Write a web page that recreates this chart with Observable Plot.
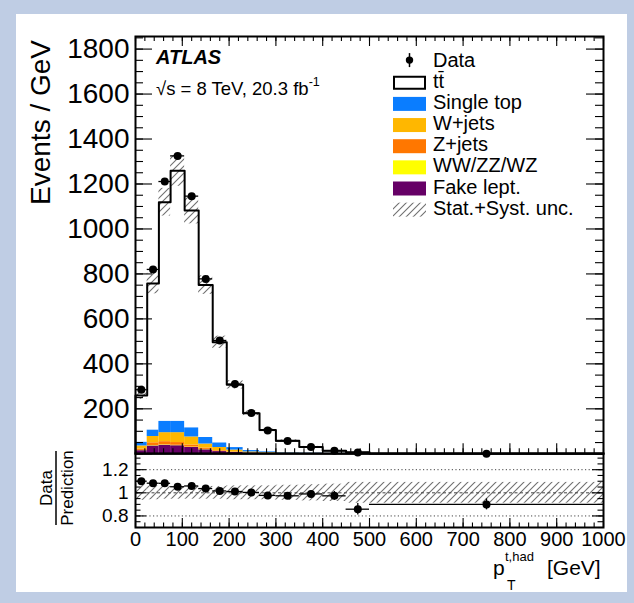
<!DOCTYPE html>
<html><head><meta charset="utf-8">
<script src="https://cdn.jsdelivr.net/npm/d3@7"></script>
<script src="https://cdn.jsdelivr.net/npm/@observablehq/plot@0.6"></script>
<style>
html,body{margin:0;padding:0;}
body{width:634px;height:603px;background:#bfcde4;position:relative;overflow:hidden;font-family:"Liberation Sans",Arial,sans-serif;}
#panel{position:absolute;left:16px;top:14px;width:611px;height:578px;background:#fff;}
#top,#bot{position:absolute;left:0;}
#top{top:0px;}
#bot{top:453px;}
#ov{position:absolute;left:0;top:0;pointer-events:none;}
</style></head><body>
<div id="panel"></div>
<div id="top"></div>
<div id="bot"></div>
<svg id="ov" width="634" height="603" font-family="Liberation Sans, Arial, sans-serif">
  <defs>
    <pattern id="hatch" patternUnits="userSpaceOnUse" width="7" height="7">
      <path d="M-1,1 l2,-2 M0,7 l7,-7 M6,8 l2,-2" stroke="#707070" stroke-width="1.1"/>
    </pattern>
  </defs>
  <text x="156" y="63.5" font-size="20" font-weight="bold" font-style="italic">ATLAS</text>
  <text x="156" y="95" font-size="18.5">√s = 8 TeV, 20.3 fb<tspan font-size="12.5" dy="-9">-1</tspan></text>
  <text transform="translate(50,40) rotate(-90)" text-anchor="end" font-size="28">Events / GeV</text>
  <text transform="translate(52,488) rotate(-90)" text-anchor="middle" font-size="17">Data</text>
  <line x1="56" x2="56" y1="451" y2="525" stroke="black" stroke-width="1.5"/>
  <text transform="translate(73,488) rotate(-90)" text-anchor="middle" font-size="17">Prediction</text>
  <text x="493" y="575" font-size="21">p<tspan font-size="13" x="505" dy="-14.5">t,had</tspan><tspan font-size="14" x="507" dy="29.5">T</tspan><tspan font-size="21" x="547" dy="-15">[GeV]</tspan></text>
  <g id="legend"></g>
</svg>
<script>
// ---------------- data ----------------
const binEdges   = [0, 25, 50, 75, 105, 135, 165, 195, 230, 265, 300, 350, 400, 450, 500, 1000];
const dataVals   = [285, 820, 1211, 1325, 1146, 778, 504, 310, 181, 104, 56.5, 30.5, 13.4, 6.0, 0.72];
const ttbar      = [208, 652, 975, 1115, 967, 678, 448, 279, 166, 98, 53, 28, 12.2, 6.1, 0.65];
const singleTop  = [16, 28, 50, 50, 40, 29, 20, 11, 6, 3, 2, 1.2, 0.6, 0.3, 0.06];
const wJets      = [14, 28, 40, 44, 36, 18, 14, 8, 4, 2.5, 1.5, 0.8, 0.5, 0.3, 0.04];
const zJets      = [6, 12, 14, 12, 9, 6, 3, 2, 1, 0.6, 0.3, 0.2, 0.1, 0.05, 0.01];
const diboson    = [1, 2, 2, 2, 2, 1.5, 1, 0.6, 0.4, 0.3, 0.2, 0.1, 0.06, 0.04, 0.01];
const fakeLep    = [14, 35, 38, 36, 28, 18, 10, 6, 3, 2, 1, 0.5, 0.3, 0.2, 0.03];
const relUnc     = [0.065, 0.06, 0.055, 0.055, 0.055, 0.055, 0.055, 0.06, 0.06, 0.06, 0.065, 0.07, 0.075, 0.09, 0.09];

const yLabelTicks = [200, 400, 600, 800, 1000, 1200, 1400, 1600, 1800];
const xLabelTicks = [0, 100, 200, 300, 400, 500, 600, 700, 800, 900, 1000];
const rLabelTicks = [0.8, 1, 1.2];
const legendNames = ["Data", "tt\u0304", "Single top", "W+jets", "Z+jets", "WW/ZZ/WZ", "Fake lept.", "Stat.+Syst. unc."];

const colSingleTop = "#0a7dff", colW = "#ffb700", colZ = "#ff7700", colVV = "#ffff00", colFake = "#660066";

// ---------------- layout ----------------
const W = 634, L = 135, R = 603;
const TT = 36, TB = 453.3;           // top panel frame (px)
const BH = 74;                        // ratio panel height (px)
const X_DOMAIN = [0, 1000], Y_DOMAIN = [0, 1856], R_DOMAIN = [0.7, 1.34];
const gevPerPx = (X_DOMAIN[1] - X_DOMAIN[0]) / (R - L);
const evPerPx = (Y_DOMAIN[1] - Y_DOMAIN[0]) / (TB - TT);
const rPerPx = (R_DOMAIN[1] - R_DOMAIN[0]) / BH;

// ---------------- derived tables ----------------
const series = [
  {vals: fakeLep, color: colFake},
  {vals: diboson, color: colVV},
  {vals: zJets, color: colZ},
  {vals: wJets, color: colW},
  {vals: singleTop, color: colSingleTop}
];
const bins = binEdges.slice(0, -1).map((lo, i) => {
  const hi = binEdges[i + 1], w = hi - lo;
  let bkg = 0;
  series.forEach(s => bkg += s.vals[i]);
  const mc = bkg + ttbar[i];
  const d = dataVals[i];
  const err = Math.sqrt(d * w) / w;
  return {i, lo, hi, c: (lo + hi) / 2, bkg, mc, data: d, err, unc: relUnc[i],
          ratio: d / mc, rerr: err / mc};
});
const stackRows = series.map(() => []);
bins.forEach(b => {
  let acc = 0;
  series.forEach((s, k) => { const v = s.vals[b.i]; stackRows[k].push({x1: b.lo, x2: b.hi, y1: acc, y2: acc + v}); acc += v; });
});
const stepPts = [{x: binEdges[0], y: 0}];
bins.forEach(b => { stepPts.push({x: b.lo, y: b.mc}); stepPts.push({x: b.hi, y: b.mc}); });
stepPts.push({x: binEdges[binEdges.length - 1], y: 0});

const yMajor = d3.range(0, 1801, 200), yMinor = d3.range(0, 1851, 50);
const xMajor = d3.range(0, 1001, 100), xMinor = d3.range(0, 1001, 20);
const rMajor = [0.8, 1.0, 1.2], rMinor = d3.range(0.7, 1.3401, 0.05);

const style = {background: "transparent", fontFamily: "Liberation Sans, Arial, sans-serif", color: "black", overflow: "visible"};
const tickStroke = {stroke: "black", strokeWidth: 1.1};

// ---------------- top panel ----------------
const topPlot = Plot.plot({
  width: W, height: 455,
  marginLeft: L, marginRight: W - R, marginTop: TT, marginBottom: 455 - TB,
  style,
  x: {domain: X_DOMAIN, axis: null},
  y: {domain: Y_DOMAIN},
  marks: [
    ...series.map((s, k) => Plot.rect(stackRows[k], {x1: "x1", x2: "x2", y1: "y1", y2: "y2", fill: s.color})),
    Plot.rect(bins, {x1: "lo", x2: "hi", y1: d => d.mc * (1 - d.unc), y2: d => d.mc * (1 + d.unc), fill: "url(#hatch)"}),
    Plot.line(stepPts, {x: "x", y: "y", stroke: "black", strokeWidth: 2}),
    Plot.ruleY(yMajor, {y: d => d, x1: 0, x2: 17 * gevPerPx, ...tickStroke}),
    Plot.ruleY(yMinor, {y: d => d, x1: 0, x2: 8 * gevPerPx, ...tickStroke}),
    Plot.ruleY(yMajor, {y: d => d, x1: 1000 - 17 * gevPerPx, x2: 1000, ...tickStroke}),
    Plot.ruleY(yMinor, {y: d => d, x1: 1000 - 8 * gevPerPx, x2: 1000, ...tickStroke}),
    Plot.ruleX(xMajor, {x: d => d, y1: 0, y2: 10 * evPerPx, ...tickStroke}),
    Plot.ruleX(xMinor, {x: d => d, y1: 0, y2: 5 * evPerPx, ...tickStroke}),
    Plot.ruleX(xMajor, {x: d => d, y1: Y_DOMAIN[1] - 10 * evPerPx, y2: Y_DOMAIN[1], ...tickStroke}),
    Plot.ruleX(xMinor, {x: d => d, y1: Y_DOMAIN[1] - 5 * evPerPx, y2: Y_DOMAIN[1], ...tickStroke}),
    Plot.frame({stroke: "black", strokeWidth: 2}),
    Plot.ruleY(bins, {y: "data", x1: "lo", x2: "hi", stroke: "black", strokeWidth: 1.3}),
    Plot.ruleX(bins, {x: "c", y1: d => d.data - d.err, y2: d => d.data + d.err, stroke: "black", strokeWidth: 1.3}),
    Plot.dot(bins, {x: "c", y: "data", r: 4, fill: "black"}),
    Plot.axisY({ticks: yLabelTicks, tickSize: 0, tickPadding: 6, fontSize: 28, tickFormat: d => String(d), label: null})
  ]
});
document.getElementById("top").appendChild(topPlot);

// ---------------- ratio panel ----------------
const botPlot = Plot.plot({
  width: W, height: 150,
  marginLeft: L, marginRight: W - R, marginTop: 0, marginBottom: 150 - BH,
  style,
  x: {domain: X_DOMAIN},
  y: {domain: R_DOMAIN},
  marks: [
    Plot.rect(bins, {x1: "lo", x2: "hi", y1: d => 1 - d.unc, y2: d => 1 + d.unc, fill: "url(#hatch)"}),
    Plot.ruleY([0.8, 1.2], {y: d => d, stroke: "#444", strokeWidth: 1, strokeDasharray: "1.2,2.4"}),
    Plot.ruleY([1], {y: d => d, stroke: "#444", strokeWidth: 1, strokeDasharray: "3,2.5"}),
    Plot.ruleY(rMajor, {y: d => d, x1: 0, x2: 11 * gevPerPx, ...tickStroke}),
    Plot.ruleY(rMinor, {y: d => d, x1: 0, x2: 5.5 * gevPerPx, ...tickStroke}),
    Plot.ruleY(rMajor, {y: d => d, x1: 1000 - 11 * gevPerPx, x2: 1000, ...tickStroke}),
    Plot.ruleY(rMinor, {y: d => d, x1: 1000 - 5.5 * gevPerPx, x2: 1000, ...tickStroke}),
    Plot.ruleX(xMajor, {x: d => d, y1: R_DOMAIN[0], y2: R_DOMAIN[0] + 9 * rPerPx, ...tickStroke}),
    Plot.ruleX(xMinor, {x: d => d, y1: R_DOMAIN[0], y2: R_DOMAIN[0] + 4.5 * rPerPx, ...tickStroke}),
    Plot.frame({stroke: "black", strokeWidth: 2}),
    Plot.ruleY(bins, {y: "ratio", x1: "lo", x2: "hi", stroke: "black", strokeWidth: 1.3}),
    Plot.ruleX(bins, {x: "c", y1: d => d.ratio - d.rerr, y2: d => d.ratio + d.rerr, stroke: "black", strokeWidth: 1.3}),
    Plot.dot(bins, {x: "c", y: "ratio", r: 4, fill: "black"}),
    Plot.axisY({ticks: rLabelTicks, tickSize: 0, tickPadding: 7, fontSize: 19, tickFormat: d => d === 1 ? "1" : d.toFixed(1), label: null}),
    Plot.axisX({ticks: xLabelTicks, tickSize: 0, tickPadding: 4, fontSize: 20, tickFormat: d => String(d), label: null})
  ]
});
document.getElementById("bot").appendChild(botPlot);

// ---------------- legend ----------------
const NS = "http://www.w3.org/2000/svg";
const lg = document.getElementById("legend");
function el(tag, attrs, text) {
  const e = document.createElementNS(NS, tag);
  for (const k in attrs) e.setAttribute(k, attrs[k]);
  if (text != null) e.textContent = text;
  lg.appendChild(e);
  return e;
}
const legendFills = [null, "white", colSingleTop, colW, colZ, colVV, colFake, "url(#hatch)"];
legendNames.forEach((name, k) => {
  const base = 66.6 + k * 21.15;
  if (k === 0) {
    el("line", {x1: 409.5, x2: 409.5, y1: base - 13.5, y2: base + 0.5, stroke: "black", "stroke-width": 1.5});
    el("circle", {cx: 409.5, cy: base - 6.5, r: 3.7, fill: "black"});
  } else if (k === 1) {
    el("rect", {x: 394, y: base - 11, width: 31, height: 12, fill: "white", stroke: "black", "stroke-width": 2});
  } else {
    el("rect", {x: 393, y: base - 12, width: 33, height: 14, fill: legendFills[k]});
  }
  el("text", {x: 433, y: base, "font-size": 20}, name);
});
</script>
</body></html>
